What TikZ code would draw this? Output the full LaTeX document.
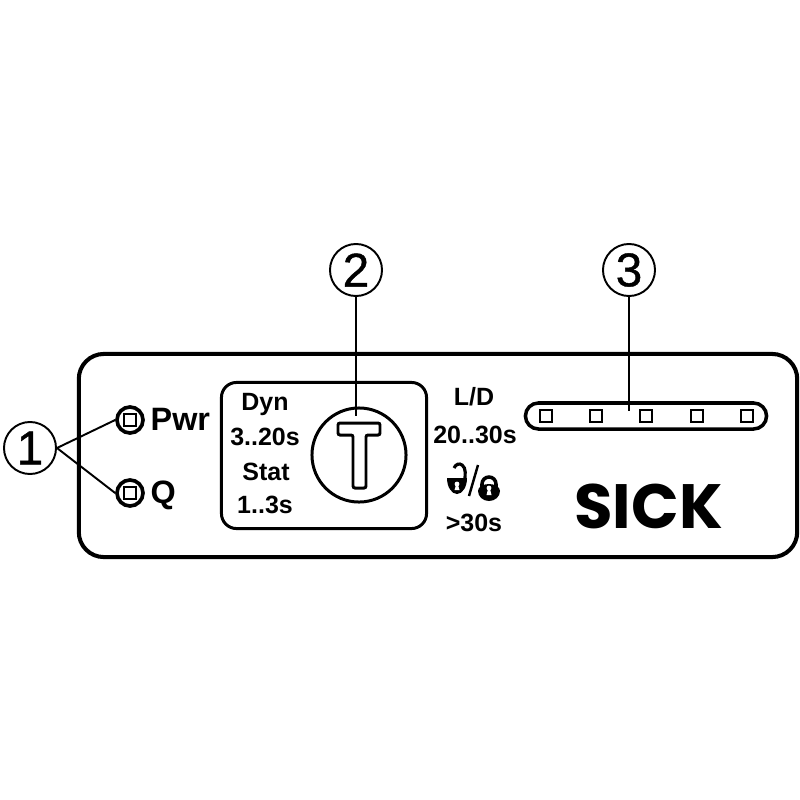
\documentclass[tikz,border=0pt]{standalone}
\usepackage{fontspec}
\setmainfont{Liberation Sans}
\newfontfamily\logofont{Poppins}
\newfontfamily\calloutfont[FakeBold=0.9]{Liberation Sans}
\tikzset{
  callout/.style={draw, circle, line width=0.55pt, minimum size=0.52cm, inner sep=0pt, font=\calloutfont\fontsize{13.5}{14}\selectfont},
  led/.style={draw, circle, line width=1.05pt, minimum size=0.26cm, inner sep=0pt},
  ledsq/.style={draw, rectangle, line width=0.55pt, minimum size=0.125cm, inner sep=0pt},
  lab/.style={inner sep=0pt, anchor=base, font=\bfseries\fontsize{7.1}{8}\selectfont},
  biglab/.style={inner sep=0pt, anchor=base west, font=\bfseries\fontsize{9.2}{10}\selectfont},
  conn/.style={line width=0.55pt},
}
\begin{document}
\begin{tikzpicture}[x=0.01cm, y=-0.01cm]
  \useasboundingbox (0,0) rectangle (800,800);

  \node[draw, line width=1.15pt, rounded corners=0.25cm, minimum width=7.18cm, minimum height=2.03cm] (frame) at (438,455.5) {};
  \node[draw, line width=0.85pt, rounded corners=0.15cm, minimum width=2.05cm, minimum height=1.46cm] (panel) at (324,455.5) {};
  \node[draw, circle, line width=0.85pt, minimum size=0.94cm, inner sep=0pt] (btn) at (359,455) {};
  \node[draw, line width=1pt, rounded corners=0.13cm, minimum width=2.41cm, minimum height=0.26cm] (strip) at (646,416) {};

  \draw[line width=0.85pt, rounded corners=0.02cm] (338,423) -- (380,423) -- (380,435) -- (366,435) -- (366,488) -- (353,488) -- (353,435) -- (338,435) -- cycle;

  \node[led] (ledp) at (130,420) {};
  \node[ledsq] (sqp) at (130,420) {};
  \node[led] (ledq) at (130,493) {};
  \node[ledsq] (sqq) at (130,493) {};
  \node[biglab] (pwr) at (150,430) {Pwr};
  \node[biglab] (q) at (150,503) {Q};

  \foreach \n/\x in {a/546,b/596,c/646,d/697,e/747}
    \node[ledsq] (sq\n) at (\x,416) {};

  \node[lab] (dyn) at (265,410) {Dyn};
  \node[lab] (dyntime) at (265,445) {3..20s};
  \node[lab] (stat) at (266,480) {Stat};
  \node[lab] (stattime) at (265,513) {1..3s};
  \node[lab] (ld) at (474,405) {L/D};
  \node[lab] (ldtime) at (475,443) {20..30s};
  \node[lab] (locktime) at (474,531) {>30s};

  \fill (447,478) -- (467,478) arc[start angle=0, end angle=180, x radius=10, y radius=16] -- cycle;
  \draw[line width=0.9pt] (454,468) arc[start angle=210, end angle=360, x radius=6, y radius=8] -- (465,479);
  \fill[white] (457,484) circle[radius=2.4];
  \fill[white] (456,485) -- (458,485) -- (459.5,490) -- (454.5,490) -- cycle;
  \draw[line width=0.7pt] (478,465) -- (469,496);
  \draw[line width=1pt] (482,488) -- (482,484) arc[start angle=180, end angle=360, radius=7] -- (496,488);
  \fill (478,491) arc[start angle=180, end angle=360, x radius=11, y radius=7] arc[start angle=0, end angle=180, x radius=11, y radius=10] -- cycle;
  \fill[white] (489,488) circle[radius=2.4];
  \fill[white] (488,489) -- (490,489) -- (491.5,495) -- (486.5,495) -- cycle;

  \node[inner sep=0pt, font=\logofont\bfseries\fontsize{17.8}{18}\selectfont] (logo) at (648.5,506.5) {SICK};

  \node[callout] (c1) at (30,448) {1};
  \node[callout] (c2) at (356,270) {2};
  \node[callout] (c3) at (629,270) {3};
  \coordinate (c2end) at (356,416);
  \coordinate (c3end) at (629,411);

  \draw[conn] (c1.east) -- (ledp.west);
  \draw[conn] (c1.east) -- (ledq.west);
  \draw[conn] (c2) -- (c2end);
  \draw[conn] (c3) -- (c3end);
\end{tikzpicture}
\end{document}
